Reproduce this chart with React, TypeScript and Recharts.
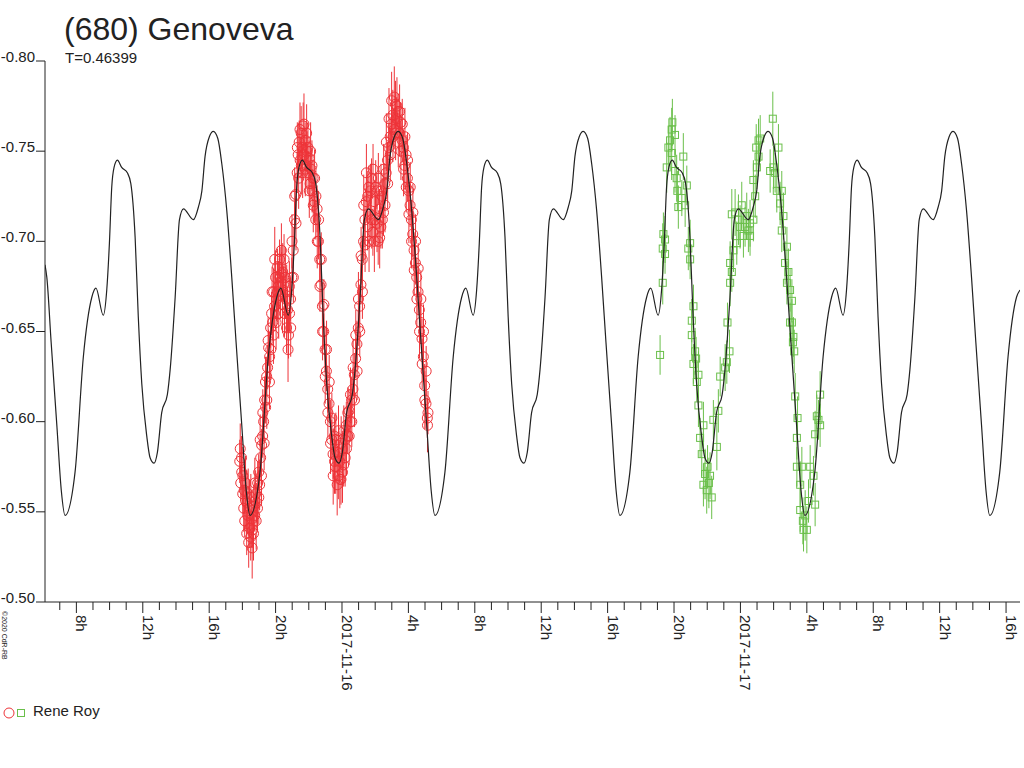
import { ComposedChart, Line, Scatter, XAxis, YAxis, ErrorBar } from 'recharts';

const INK = '#222222';
const RED = '#ee3338';
const GREEN = '#6abf4a';
const FONT = '"Liberation Sans", Arial, sans-serif';

// model lightcurve, [hours since 2017-11-15 00:00 UT, relative mag]
const MODEL: [number, number][] = [
  [6.11, -0.687], [6.22, -0.680], [6.48, -0.644], [6.83, -0.597], [7.09, -0.562],
  [7.32, -0.548], [7.92, -0.572], [8.42, -0.636], [8.93, -0.669], [9.18, -0.674],
  [9.62, -0.659], [9.83, -0.673], [9.99, -0.699], [10.13, -0.730], [10.27, -0.741],
  [10.47, -0.745], [10.73, -0.741], [11.07, -0.738], [11.28, -0.732], [11.54, -0.702],
  [11.73, -0.658], [11.94, -0.621], [12.24, -0.592], [12.44, -0.580], [12.68, -0.577],
  [12.88, -0.583], [13.14, -0.605], [13.48, -0.615], [13.65, -0.629], [13.95, -0.669],
  [14.21, -0.712], [14.45, -0.718], [15.05, -0.712], [15.35, -0.719], [15.56, -0.728],
  [15.75, -0.747], [16.01, -0.758], [16.25, -0.761], [16.52, -0.757], [16.76, -0.743],
  [17.06, -0.717], [17.36, -0.680], [17.62, -0.644], [17.97, -0.597], [18.23, -0.562],
  [18.46, -0.548], [19.06, -0.572], [19.56, -0.636], [20.07, -0.669], [20.32, -0.674],
  [20.76, -0.659], [20.97, -0.673], [21.13, -0.699], [21.27, -0.730], [21.41, -0.741],
  [21.61, -0.745], [21.87, -0.741], [22.21, -0.738], [22.42, -0.732], [22.68, -0.702],
  [22.87, -0.658], [23.08, -0.621], [23.38, -0.592], [23.58, -0.580], [23.82, -0.577],
  [24.02, -0.583], [24.28, -0.605], [24.62, -0.615], [24.79, -0.629], [25.09, -0.669],
  [25.35, -0.712], [25.59, -0.718], [26.19, -0.712], [26.49, -0.719], [26.70, -0.728],
  [26.89, -0.747], [27.15, -0.758], [27.39, -0.761], [27.66, -0.757], [27.90, -0.743],
  [28.20, -0.717], [28.50, -0.680], [28.76, -0.644], [29.11, -0.597], [29.37, -0.562],
  [29.60, -0.548], [30.20, -0.572], [30.70, -0.636], [31.21, -0.669], [31.46, -0.674],
  [31.90, -0.659], [32.11, -0.673], [32.27, -0.699], [32.41, -0.730], [32.55, -0.741],
  [32.75, -0.745], [33.01, -0.741], [33.35, -0.738], [33.56, -0.732], [33.82, -0.702],
  [34.01, -0.658], [34.22, -0.621], [34.52, -0.592], [34.72, -0.580], [34.96, -0.577],
  [35.16, -0.583], [35.42, -0.605], [35.76, -0.615], [35.93, -0.629], [36.23, -0.669],
  [36.49, -0.712], [36.73, -0.718], [37.33, -0.712], [37.63, -0.719], [37.84, -0.728],
  [38.03, -0.747], [38.29, -0.758], [38.53, -0.761], [38.80, -0.757], [39.04, -0.743],
  [39.34, -0.717], [39.64, -0.680], [39.90, -0.644], [40.25, -0.597], [40.51, -0.562],
  [40.74, -0.548], [41.34, -0.572], [41.84, -0.636], [42.35, -0.669], [42.60, -0.674],
  [43.04, -0.659], [43.25, -0.673], [43.41, -0.699], [43.55, -0.730], [43.69, -0.741],
  [43.89, -0.745], [44.15, -0.741], [44.49, -0.738], [44.70, -0.732], [44.96, -0.702],
  [45.15, -0.658], [45.36, -0.621], [45.66, -0.592], [45.86, -0.580], [46.10, -0.577],
  [46.30, -0.583], [46.56, -0.605], [46.90, -0.615], [47.07, -0.629], [47.37, -0.669],
  [47.63, -0.712], [47.87, -0.718], [48.47, -0.712], [48.77, -0.719], [48.98, -0.728],
  [49.17, -0.747], [49.43, -0.758], [49.67, -0.761], [49.94, -0.757], [50.18, -0.743],
  [50.48, -0.717], [50.78, -0.680], [51.04, -0.644], [51.39, -0.597], [51.65, -0.562],
  [51.88, -0.548], [52.48, -0.572], [52.98, -0.636], [53.49, -0.669], [53.74, -0.674],
  [54.18, -0.659], [54.39, -0.673], [54.55, -0.699], [54.69, -0.730], [54.83, -0.741],
  [55.03, -0.745], [55.29, -0.741], [55.63, -0.738], [55.84, -0.732], [56.10, -0.702],
  [56.29, -0.658], [56.50, -0.621], [56.80, -0.592], [57.00, -0.580], [57.24, -0.577],
  [57.44, -0.583], [57.70, -0.605], [58.04, -0.615], [58.21, -0.629], [58.51, -0.669],
  [58.77, -0.712], [59.01, -0.718], [59.61, -0.712], [59.91, -0.719], [60.12, -0.728],
  [60.31, -0.747], [60.57, -0.758], [60.81, -0.761], [61.08, -0.757], [61.32, -0.743],
  [61.62, -0.717], [61.92, -0.680], [62.18, -0.644], [62.53, -0.597], [62.79, -0.562],
  [63.02, -0.548], [63.62, -0.572], [64.12, -0.636], [64.63, -0.669], [64.84, -0.673],
];

// Rene Roy, night of 2017-11-15/16: [hours, mag, error]
const ROY_NIGHT1: [number, number, number][] = [
  [17.84, -0.578, 0.012], [17.90, -0.566, 0.010], [17.96, -0.572, 0.014], [18.02, -0.560, 0.011],
  [18.08, -0.552, 0.013], [18.14, -0.545, 0.009], [18.20, -0.556, 0.015], [18.26, -0.538, 0.012],
  [18.32, -0.548, 0.010], [18.38, -0.533, 0.014], [18.44, -0.541, 0.011], [18.50, -0.536, 0.013],
  [18.56, -0.546, 0.016], [18.62, -0.540, 0.010], [18.68, -0.553, 0.012], [18.74, -0.548, 0.009],
  [18.80, -0.560, 0.013], [18.86, -0.555, 0.011], [18.92, -0.566, 0.012], [18.98, -0.572, 0.010],
  [19.04, -0.565, 0.014], [19.10, -0.580, 0.011], [19.16, -0.587, 0.009], [19.22, -0.592, 0.012],
  [19.28, -0.600, 0.010], [19.34, -0.612, 0.013], [19.40, -0.608, 0.009], [19.46, -0.625, 0.011],
  [19.52, -0.630, 0.012], [19.58, -0.641, 0.010], [19.64, -0.636, 0.014], [19.70, -0.652, 0.011],
  [19.76, -0.660, 0.012], [19.82, -0.655, 0.010], [19.88, -0.672, 0.013], [19.94, -0.664, 0.011],
  [20.00, -0.680, 0.015], [20.06, -0.668, 0.012], [20.12, -0.686, 0.010], [20.18, -0.675, 0.014],
  [20.24, -0.690, 0.011], [20.30, -0.670, 0.013], [20.36, -0.682, 0.012], [20.42, -0.665, 0.016],
  [20.48, -0.676, 0.010], [20.54, -0.660, 0.013], [20.60, -0.668, 0.011], [20.66, -0.652, 0.014],
  [20.72, -0.662, 0.012], [20.78, -0.648, 0.013], [20.84, -0.660, 0.010], [20.90, -0.668, 0.012],
  [20.98, -0.680, 0.011], [21.06, -0.695, 0.013], [21.14, -0.712, 0.010], [21.22, -0.726, 0.012],
  [21.30, -0.738, 0.011], [21.36, -0.748, 0.014], [21.42, -0.755, 0.012], [21.48, -0.745, 0.010],
  [21.54, -0.760, 0.015], [21.60, -0.752, 0.011], [21.66, -0.764, 0.013], [21.72, -0.748, 0.012],
  [21.78, -0.756, 0.010], [21.84, -0.742, 0.013], [21.90, -0.750, 0.011], [21.96, -0.738, 0.012],
  [22.02, -0.746, 0.010], [22.08, -0.732, 0.013], [22.14, -0.740, 0.011], [22.20, -0.728, 0.012],
  [22.26, -0.735, 0.010], [22.34, -0.722, 0.012], [22.42, -0.712, 0.011], [22.50, -0.718, 0.013],
  [22.58, -0.700, 0.010], [22.66, -0.690, 0.012], [22.74, -0.676, 0.011], [22.82, -0.664, 0.013],
  [22.90, -0.650, 0.010], [22.98, -0.640, 0.012], [23.06, -0.628, 0.011], [23.14, -0.618, 0.013],
  [23.22, -0.610, 0.010], [23.30, -0.600, 0.012], [23.38, -0.590, 0.011], [23.46, -0.582, 0.014],
  [23.54, -0.592, 0.012], [23.62, -0.575, 0.015], [23.70, -0.583, 0.011], [23.78, -0.570, 0.013],
  [23.86, -0.578, 0.012], [23.94, -0.568, 0.014], [24.02, -0.585, 0.010], [24.10, -0.576, 0.012],
  [24.18, -0.590, 0.011], [24.26, -0.598, 0.013], [24.34, -0.592, 0.010], [24.42, -0.606, 0.012],
  [24.50, -0.600, 0.011], [24.58, -0.612, 0.013], [24.66, -0.618, 0.010], [24.74, -0.626, 0.012],
  [24.82, -0.635, 0.011], [24.90, -0.643, 0.013], [24.98, -0.652, 0.010], [25.06, -0.664, 0.012],
  [25.14, -0.676, 0.011], [25.22, -0.690, 0.013], [25.30, -0.700, 0.012], [25.38, -0.712, 0.014],
  [25.46, -0.722, 0.011], [25.54, -0.708, 0.013], [25.62, -0.730, 0.012], [25.70, -0.715, 0.015],
  [25.78, -0.735, 0.011], [25.86, -0.705, 0.013], [25.94, -0.722, 0.012], [26.02, -0.712, 0.014],
  [26.10, -0.728, 0.010], [26.18, -0.700, 0.013], [26.26, -0.718, 0.011], [26.34, -0.708, 0.012],
  [26.42, -0.725, 0.010], [26.50, -0.716, 0.013], [26.58, -0.732, 0.011], [26.66, -0.738, 0.012],
  [26.74, -0.745, 0.010], [26.82, -0.752, 0.013], [26.90, -0.758, 0.011], [26.98, -0.765, 0.012],
  [27.06, -0.770, 0.014], [27.14, -0.762, 0.011], [27.22, -0.776, 0.013], [27.30, -0.768, 0.012],
  [27.38, -0.772, 0.010], [27.46, -0.760, 0.013], [27.54, -0.766, 0.011], [27.62, -0.756, 0.012],
  [27.70, -0.752, 0.010], [27.78, -0.742, 0.012], [27.86, -0.748, 0.011], [27.94, -0.735, 0.013],
  [28.02, -0.728, 0.010], [28.10, -0.720, 0.012], [28.18, -0.712, 0.011], [28.26, -0.704, 0.013],
  [28.34, -0.695, 0.010], [28.42, -0.688, 0.012], [28.50, -0.680, 0.011], [28.58, -0.672, 0.013],
  [28.66, -0.662, 0.010], [28.74, -0.655, 0.012], [28.82, -0.646, 0.011], [28.90, -0.636, 0.013],
  [28.98, -0.620, 0.012], [29.06, -0.610, 0.014], [29.14, -0.602, 0.011], [29.18, -0.605, 0.012],
];

// same night, the points lying further from the curve
const ROY_NIGHT1_SPREAD: [number, number, number][] = [
  [17.87, -0.585, 0.014], [17.95, -0.580, 0.012], [18.03, -0.570, 0.016], [18.11, -0.562, 0.013],
  [18.19, -0.566, 0.015], [18.27, -0.555, 0.018], [18.35, -0.560, 0.014], [18.43, -0.552, 0.016],
  [18.51, -0.558, 0.013], [18.59, -0.530, 0.017], [18.67, -0.538, 0.015], [18.75, -0.566, 0.014],
  [18.83, -0.545, 0.016], [18.91, -0.552, 0.013], [18.99, -0.558, 0.015], [19.07, -0.590, 0.014],
  [19.15, -0.570, 0.016], [19.23, -0.605, 0.013], [19.31, -0.588, 0.015], [19.39, -0.622, 0.014],
  [19.47, -0.612, 0.016], [19.55, -0.645, 0.013], [19.63, -0.622, 0.015], [19.71, -0.640, 0.017],
  [19.79, -0.672, 0.014], [19.87, -0.648, 0.016], [19.95, -0.690, 0.018], [20.03, -0.655, 0.015],
  [20.11, -0.672, 0.016], [20.19, -0.660, 0.014], [20.27, -0.680, 0.017], [20.35, -0.695, 0.015],
  [20.43, -0.683, 0.016], [20.51, -0.690, 0.014], [20.59, -0.680, 0.017], [20.67, -0.672, 0.015],
  [20.75, -0.640, 0.018], [20.83, -0.675, 0.014], [20.91, -0.652, 0.016], [20.99, -0.700, 0.015],
  [21.07, -0.680, 0.014], [21.15, -0.725, 0.016], [21.23, -0.710, 0.015], [21.31, -0.752, 0.014],
  [21.39, -0.735, 0.017], [21.47, -0.762, 0.015], [21.55, -0.742, 0.016], [21.63, -0.738, 0.014],
  [21.71, -0.765, 0.017], [21.79, -0.740, 0.015], [21.87, -0.760, 0.016], [21.95, -0.752, 0.014],
  [22.03, -0.728, 0.015], [22.11, -0.750, 0.016], [22.19, -0.742, 0.014], [22.27, -0.720, 0.015],
  [22.35, -0.735, 0.016], [22.43, -0.725, 0.014], [22.51, -0.700, 0.015], [22.59, -0.712, 0.016],
  [22.67, -0.675, 0.014], [22.75, -0.690, 0.015], [22.83, -0.650, 0.016], [22.91, -0.665, 0.014],
  [22.99, -0.625, 0.015], [23.07, -0.640, 0.016], [23.15, -0.605, 0.014], [23.23, -0.622, 0.015],
  [23.31, -0.588, 0.017], [23.39, -0.602, 0.014], [23.47, -0.570, 0.016], [23.55, -0.578, 0.018],
  [23.63, -0.590, 0.015], [23.71, -0.565, 0.017], [23.79, -0.595, 0.014], [23.87, -0.568, 0.016],
  [23.95, -0.588, 0.015], [24.03, -0.572, 0.017], [24.11, -0.595, 0.014], [24.19, -0.580, 0.016],
  [24.27, -0.585, 0.015], [24.35, -0.605, 0.014], [24.43, -0.592, 0.016], [24.51, -0.615, 0.015],
  [24.59, -0.600, 0.014], [24.67, -0.630, 0.016], [24.75, -0.612, 0.015], [24.83, -0.648, 0.014],
  [24.91, -0.628, 0.016], [24.99, -0.668, 0.015], [25.07, -0.650, 0.014], [25.15, -0.692, 0.016],
  [25.23, -0.672, 0.015], [25.31, -0.720, 0.017], [25.39, -0.698, 0.015], [25.47, -0.738, 0.016],
  [25.55, -0.725, 0.014], [25.63, -0.700, 0.017], [25.71, -0.728, 0.015], [25.79, -0.712, 0.016],
  [25.87, -0.740, 0.014], [25.95, -0.700, 0.017], [26.03, -0.730, 0.015], [26.11, -0.710, 0.016],
  [26.19, -0.735, 0.014], [26.27, -0.702, 0.017], [26.35, -0.728, 0.015], [26.43, -0.712, 0.016],
  [26.51, -0.740, 0.014], [26.59, -0.720, 0.015], [26.67, -0.755, 0.016], [26.75, -0.732, 0.014],
  [26.83, -0.768, 0.017], [26.91, -0.748, 0.015], [26.99, -0.778, 0.016], [27.07, -0.758, 0.014],
  [27.15, -0.780, 0.017], [27.23, -0.760, 0.015], [27.31, -0.775, 0.016], [27.39, -0.755, 0.014],
  [27.47, -0.772, 0.015], [27.55, -0.750, 0.016], [27.63, -0.765, 0.014], [27.71, -0.740, 0.015],
  [27.79, -0.758, 0.016], [27.87, -0.730, 0.014], [27.95, -0.745, 0.015], [28.03, -0.715, 0.016],
  [28.11, -0.730, 0.014], [28.19, -0.700, 0.015], [28.27, -0.716, 0.016], [28.35, -0.684, 0.014],
  [28.43, -0.700, 0.015], [28.51, -0.668, 0.016], [28.59, -0.685, 0.014], [28.67, -0.650, 0.015],
  [28.75, -0.668, 0.016], [28.83, -0.632, 0.014], [28.91, -0.650, 0.015], [28.99, -0.612, 0.016],
  [29.07, -0.628, 0.014], [29.15, -0.598, 0.015],
];

// Rene Roy, night of 2017-11-16/17
const ROY_NIGHT2: [number, number, number][] = [
  [43.16, -0.637, 0.011], [43.32, -0.677, 0.012], [43.32, -0.696, 0.014], [43.36, -0.704, 0.012],
  [43.46, -0.701, 0.013], [43.46, -0.693, 0.011], [43.56, -0.741, 0.014], [43.66, -0.752, 0.012],
  [43.76, -0.756, 0.013], [43.86, -0.762, 0.012], [43.86, -0.749, 0.015], [43.90, -0.766, 0.013],
  [44.06, -0.759, 0.011], [44.06, -0.739, 0.012], [44.16, -0.735, 0.013], [44.20, -0.728, 0.011],
  [44.26, -0.719, 0.012], [44.47, -0.724, 0.010], [44.56, -0.747, 0.013], [44.67, -0.720, 0.012],
  [44.77, -0.731, 0.011], [44.86, -0.696, 0.012], [44.97, -0.699, 0.013], [44.97, -0.690, 0.011],
  [45.07, -0.656, 0.012], [45.07, -0.648, 0.014], [45.17, -0.664, 0.012], [45.17, -0.632, 0.011],
  [45.27, -0.639, 0.013], [45.33, -0.635, 0.012], [45.37, -0.622, 0.011], [45.47, -0.626, 0.013],
  [45.47, -0.609, 0.012], [45.57, -0.591, 0.011], [45.67, -0.582, 0.012], [45.77, -0.598, 0.013],
  [45.77, -0.565, 0.012], [45.87, -0.571, 0.014], [45.97, -0.562, 0.013], [46.02, -0.575, 0.012],
  [46.10, -0.566, 0.014], [46.17, -0.570, 0.013], [46.27, -0.558, 0.012], [46.37, -0.601, 0.011],
  [46.58, -0.586, 0.013], [46.67, -0.606, 0.012], [46.78, -0.625, 0.011], [47.08, -0.630, 0.013],
  [47.18, -0.633, 0.012], [47.22, -0.655, 0.011], [47.34, -0.639, 0.012], [47.38, -0.677, 0.013],
  [47.38, -0.688, 0.012], [47.48, -0.683, 0.011], [47.48, -0.715, 0.014], [47.58, -0.695, 0.012],
  [47.68, -0.716, 0.013], [47.78, -0.699, 0.012], [47.88, -0.712, 0.014], [47.98, -0.708, 0.012],
  [48.08, -0.720, 0.013], [48.18, -0.703, 0.012], [48.28, -0.708, 0.011], [48.38, -0.714, 0.013],
  [48.48, -0.706, 0.012], [48.58, -0.703, 0.011], [48.58, -0.710, 0.013], [48.78, -0.712, 0.012],
  [48.78, -0.734, 0.011], [48.89, -0.725, 0.012], [48.95, -0.752, 0.013], [48.99, -0.741, 0.012],
  [49.09, -0.747, 0.011], [49.09, -0.756, 0.012], [49.19, -0.757, 0.013], [49.79, -0.739, 0.012],
  [49.95, -0.768, 0.015], [49.99, -0.741, 0.012], [50.09, -0.738, 0.011], [50.19, -0.728, 0.012],
  [50.29, -0.752, 0.013], [50.39, -0.721, 0.012], [50.49, -0.728, 0.011], [50.49, -0.706, 0.012],
  [50.59, -0.714, 0.013], [50.69, -0.688, 0.012], [50.80, -0.697, 0.011], [50.80, -0.677, 0.012],
  [50.89, -0.683, 0.013], [50.99, -0.673, 0.012], [50.99, -0.655, 0.011], [51.10, -0.667, 0.012],
  [51.10, -0.655, 0.013], [51.16, -0.644, 0.012], [51.19, -0.647, 0.011], [51.24, -0.639, 0.012],
  [51.30, -0.614, 0.013], [51.40, -0.591, 0.012], [51.40, -0.575, 0.011], [51.44, -0.602, 0.012],
  [51.60, -0.565, 0.013], [51.60, -0.551, 0.012], [51.70, -0.575, 0.011], [51.76, -0.545, 0.013],
  [51.80, -0.540, 0.012], [51.90, -0.548, 0.014], [52.00, -0.540, 0.013], [52.10, -0.556, 0.012],
  [52.20, -0.575, 0.012], [52.40, -0.570, 0.011], [52.50, -0.554, 0.012], [52.50, -0.593, 0.013],
  [52.60, -0.603, 0.012], [52.70, -0.601, 0.011], [52.80, -0.598, 0.012], [52.80, -0.615, 0.013],
];

const MAG_TICKS = [-0.8, -0.75, -0.7, -0.65, -0.6, -0.55, -0.5];
const HOUR_TICKS = [
  7, 8, 9, 10, 11, 12, 13, 14, 15, 16, 17, 18, 19, 20, 21, 22, 23, 24, 25, 26, 27, 28, 29, 30, 31, 32, 33, 34, 35,
  36, 37, 38, 39, 40, 41, 42, 43, 44, 45, 46, 47, 48, 49, 50, 51, 52, 53, 54, 55, 56, 57, 58, 59, 60, 61, 62, 63, 64,
];
const MAJOR_HOURS = [8, 12, 16, 20, 24, 28, 32, 36, 40, 44, 48, 52, 56, 60, 64];
const MAJOR_LABELS = ['8h', '12h', '16h', '20h', '2017-11-16', '4h', '8h', '12h', '16h', '20h', '2017-11-17', '4h', '8h', '12h', '16h'];

const modelData = MODEL.map(([t, mag]) => ({ t, mag }));
const night1Data = [...ROY_NIGHT1, ...ROY_NIGHT1_SPREAD].map(([t, mag, err]) => ({ t, mag, err }));
const night2Data = ROY_NIGHT2.map(([t, mag, err]) => ({ t, mag, err }));

function HourTick({ x, y, payload }: any) {
  const idx = MAJOR_HOURS.indexOf(payload.value);
  const major = idx >= 0;
  return (
    <g>
      <line x1={x} y1={y} x2={x} y2={y + (major ? 11 : 8)} stroke={INK} />
      {major && (
        <text x={x} y={y + 13} transform={`rotate(90 ${x} ${y + 13})`} fontSize={15} fill={INK} fontFamily={FONT}>
          {MAJOR_LABELS[idx]}
        </text>
      )}
    </g>
  );
}

function MagTick({ x, y, payload }: any) {
  return (
    <text x={x} y={y + 1} textAnchor="end" fontSize={15} fill={INK} fontFamily={FONT}>
      {Number(payload.value).toFixed(2)}
    </text>
  );
}

const circleShape = ({ cx, cy }: any) => <circle cx={cx} cy={cy} r={5} fill="none" stroke={RED} strokeWidth={1} />;
const squareShape = ({ cx, cy }: any) => (
  <rect x={cx - 3.5} y={cy - 3.5} width={7} height={7} fill="none" stroke={GREEN} strokeWidth={1} />
);

export default function App() {
  return (
    <div style={{ position: 'absolute', left: 0, top: 0, width: 1024, height: 768, background: '#fff', fontFamily: FONT, color: INK }}>
      <div style={{ position: 'absolute', left: 64, top: 10, fontSize: 32, lineHeight: '38px' }}>(680) Genoveva</div>
      <div style={{ position: 'absolute', left: 65, top: 49, fontSize: 15, lineHeight: '17px' }}>T=0.46399</div>

      <ComposedChart width={1024} height={768} margin={{ top: 61, right: 4, bottom: 46, left: 0 }}>
        <XAxis
          type="number"
          dataKey="t"
          domain={[6.11, 64.84]}
          allowDataOverflow
          ticks={HOUR_TICKS}
          interval={0}
          tick={<HourTick />}
          tickLine={false}
          tickSize={0}
          tickMargin={0}
          height={120}
          axisLine={{ stroke: INK }}
        />
        <YAxis
          type="number"
          domain={[-0.8, -0.5]}
          allowDataOverflow
          reversed
          ticks={MAG_TICKS}
          interval={0}
          tick={<MagTick />}
          tickSize={9}
          tickMargin={1}
          tickLine={{ stroke: INK }}
          axisLine={{ stroke: INK }}
          width={45}
        />
        <Scatter data={night1Data} dataKey="mag" shape={circleShape} isAnimationActive={false}>
          <ErrorBar dataKey="err" direction="y" width={0} stroke={RED} strokeWidth={1} />
        </Scatter>
        <Scatter data={night2Data} dataKey="mag" shape={squareShape} isAnimationActive={false}>
          <ErrorBar dataKey="err" direction="y" width={0} stroke={GREEN} strokeWidth={1} />
        </Scatter>
        <Line
          data={modelData}
          dataKey="mag"
          type="monotone"
          stroke={INK}
          strokeWidth={1.2}
          dot={false}
          activeDot={false}
          isAnimationActive={false}
          zIndex={700}
        />
      </ComposedChart>

      <svg style={{ position: 'absolute', left: 0, top: 700 }} width={30} height={24}>
        <circle cx={9} cy={13} r={5} fill="none" stroke={RED} />
        <rect x={17.5} y={9.5} width={7} height={7} fill="none" stroke={GREEN} />
      </svg>
      <div style={{ position: 'absolute', left: 33, top: 702, fontSize: 15, lineHeight: '18px' }}>Rene Roy</div>

      <svg style={{ position: 'absolute', left: 0, top: 608 }} width={12} height={60}>
        <text x={2} y={3} transform="rotate(90 2 3)" fontSize={7} fill={INK} fontFamily={FONT}>
          ©2020 CdR-RB
        </text>
      </svg>
    </div>
  );
}
